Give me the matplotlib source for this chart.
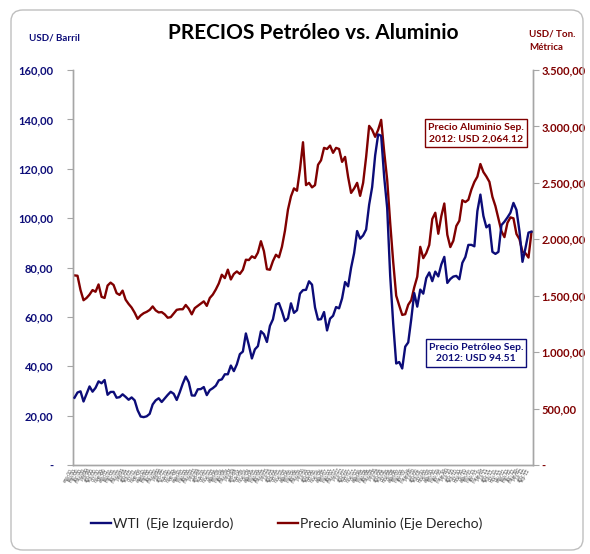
import matplotlib
matplotlib.use('Agg')
import matplotlib.pyplot as plt
import matplotlib.ticker as ticker
from matplotlib.patches import FancyBboxPatch

# Monthly data, ene-00 .. sep-12
meses = ['ene', 'feb', 'mar', 'abr', 'may', 'jun', 'jul', 'ago', 'sep', 'oct', 'nov', 'dic']
etiquetas = [f'{m}-{a:02d}' for a in range(0, 13) for m in meses][:153]

wti = [
    27.26, 29.37, 29.84, 25.72, 28.79, 31.82, 29.70, 31.26, 33.88, 33.11, 34.42, 28.44,
    29.59, 29.61, 27.25, 27.49, 28.63, 27.60, 26.43, 27.37, 26.20, 22.17, 19.64, 19.39,
    19.72, 20.72, 24.53, 26.18, 27.04, 25.52, 26.97, 28.39, 29.66, 28.84, 26.35, 29.46,
    32.95, 35.83, 33.51, 28.17, 28.11, 30.66, 30.75, 31.57, 28.31, 30.34, 31.11, 32.13,
    34.31, 34.69, 36.74, 36.75, 40.28, 38.03, 40.78, 44.90, 45.94, 53.28, 48.47, 43.15,
    46.84, 48.15, 54.19, 52.98, 49.83, 56.35, 59.00, 64.99, 65.59, 62.26, 58.32, 59.41,
    65.49, 61.63, 62.69, 69.44, 70.84, 70.95, 74.41, 73.04, 63.80, 58.89, 59.08, 61.96,
    54.51, 59.28, 60.44, 63.98, 63.46, 67.49, 74.12, 72.36, 79.92, 85.80, 94.77, 91.69,
    92.97, 95.39, 105.45, 112.58, 125.40, 133.88, 133.37, 116.67, 104.11, 76.61, 57.31, 41.12,
    41.71, 39.09, 47.94, 49.65, 59.03, 69.64, 64.15, 71.05, 69.41, 75.72, 77.99, 74.47,
    78.33, 76.39, 81.20, 84.29, 73.74, 75.34, 76.32, 76.60, 75.24, 81.89, 84.25, 89.15,
    89.17, 88.58, 102.86, 109.53, 100.90, 96.26, 97.30, 86.33, 85.52, 86.32, 97.16, 98.56,
    100.27, 102.20, 106.16, 103.32, 94.66, 82.30, 87.90, 94.13, 94.51,
]

aluminio = [
    1680, 1677, 1550, 1460, 1480, 1510, 1550, 1535, 1600, 1490, 1480, 1590,
    1616, 1595, 1523, 1507, 1545, 1465, 1427, 1395, 1350, 1295, 1325, 1345,
    1357, 1374, 1405, 1370, 1352, 1355, 1335, 1305, 1310, 1342, 1375, 1380,
    1380, 1418, 1385, 1335, 1390, 1410, 1430, 1450, 1410, 1480, 1510, 1555,
    1609, 1686, 1656, 1731, 1644, 1693, 1715, 1693, 1730, 1819, 1816, 1849,
    1834, 1882, 1983, 1895, 1735, 1730, 1807, 1863, 1840, 1934, 2076, 2263,
    2380, 2451, 2430, 2620, 2860, 2480, 2500, 2460, 2480, 2660, 2700, 2810,
    2800, 2830, 2766, 2810, 2800, 2686, 2730, 2553, 2411, 2450, 2500, 2385,
    2500, 2730, 3005, 2970, 2908, 2970, 3058, 2775, 2527, 2145, 1800, 1500,
    1413, 1330, 1336, 1420, 1460, 1574, 1668, 1933, 1833, 1878, 1950, 2180,
    2235, 2049, 2205, 2317, 2040, 1931, 1987, 2118, 2164, 2346, 2330, 2350,
    2440, 2508, 2555, 2667, 2596, 2556, 2509, 2376, 2294, 2183, 2072, 2019,
    2146, 2194, 2186, 2047, 2001, 1889, 1876, 1838, 2064.12,
]

AZUL = '#0c0c78'
ROJO = '#800000'
GRIS = '#a6a6a6'

plt.rcParams['font.family'] = ['Lato', 'DejaVu Sans']

fig = plt.figure(figsize=(5.9, 5.54), dpi=100)
fig.patch.set_facecolor('white')

# rounded outer frame
marco = FancyBboxPatch((11 / 590, 1 - 550 / 554), 572 / 590, 540 / 554,
                       boxstyle='round,pad=0,rounding_size=0.02',
                       transform=fig.transFigure, fill=False,
                       edgecolor='#bfbfbf', linewidth=1.0)
fig.patches.append(marco)

ax = fig.add_axes([73 / 590, 1 - 465 / 554, 460 / 590, 395 / 554])
ax2 = ax.twinx()

x = list(range(len(wti)))
l1, = ax.plot(x, wti, color=AZUL, linewidth=1.7, label='WTI  (Eje Izquierdo)', zorder=3)
l2, = ax2.plot(x, aluminio, color=ROJO, linewidth=1.7, label='Precio Aluminio (Eje Derecho)', zorder=2)
ax.set_zorder(ax2.get_zorder() + 1)
ax.patch.set_visible(False)

ax.set_xlim(-0.5, len(wti) - 0.5)
ax.set_ylim(0, 160)
ax2.set_ylim(0, 3500)
ax.yaxis.set_major_locator(ticker.MultipleLocator(20))
ax2.yaxis.set_major_locator(ticker.MultipleLocator(500))


def fmt_izq(v, pos):
    return '-' if v == 0 else f'{v:.2f}'.replace('.', ',')


def fmt_der(v, pos):
    if v == 0:
        return '-'
    return f'{v:,.2f}'.replace(',', 'X').replace('.', ',').replace('X', '.')


ax.yaxis.set_major_formatter(ticker.FuncFormatter(fmt_izq))
ax2.yaxis.set_major_formatter(ticker.FuncFormatter(fmt_der))

ax.set_xticks(x)
ax.set_xticklabels(etiquetas, rotation=60, ha='right', fontsize=3.4, color='#595959')
ax.tick_params(axis='x', length=0, pad=2)
ax.tick_params(axis='y', colors=GRIS, labelcolor=AZUL, labelsize=8, length=4, direction='out', pad=10)
ax2.tick_params(axis='y', colors=GRIS, labelcolor=ROJO, labelsize=8, length=4, direction='out', pad=2)
for lab in ax.get_yticklabels():
    lab.set_fontweight('bold')
for lab in ax2.get_yticklabels():
    lab.set_fontweight('bold')

for a in (ax, ax2):
    a.spines['top'].set_visible(False)
    for s in ('left', 'right', 'bottom'):
        a.spines[s].set_color(GRIS)
        a.spines[s].set_linewidth(1.0)

# titles and axis units
fig.text(313 / 590, 1 - 33 / 554, 'PRECIOS Petróleo vs. Aluminio', ha='center', va='center',
         fontsize=15, fontweight='bold', color='black')
fig.text(29 / 590, 1 - 38 / 554, 'USD/ Barril', ha='left', va='center',
         fontsize=7, fontweight='bold', color=AZUL)
fig.text(529 / 590, 1 - 41 / 554, 'USD/ Ton.\nMétrica', ha='left', va='center',
         fontsize=7, fontweight='bold', color=ROJO, linespacing=1.6)

# annotation boxes
fig.text(476 / 590, 1 - 133 / 554, 'Precio Aluminio Sep.\n2012: USD 2,064.12', ha='center', va='center',
         fontsize=7.5, fontweight='bold', color=ROJO, linespacing=1.4,
         bbox=dict(boxstyle='square,pad=0.3', facecolor='white', edgecolor=ROJO, linewidth=1.0))
fig.text(476 / 590, 1 - 353 / 554, 'Precio Petróleo Sep.\n2012: USD 94.51', ha='center', va='center',
         fontsize=7.5, fontweight='bold', color=AZUL, linespacing=1.4,
         bbox=dict(boxstyle='square,pad=0.3', facecolor='white', edgecolor=AZUL, linewidth=1.0))

fig.legend(handles=[l1, l2], loc='center', bbox_to_anchor=(287 / 590, 1 - 524 / 554),
           ncol=2, frameon=False, fontsize=10, handlelength=1.4, handletextpad=0.2,
           columnspacing=3.2, labelcolor='#262626')

plt.savefig('out.png', dpi=100)
print('Saved: out.png')
